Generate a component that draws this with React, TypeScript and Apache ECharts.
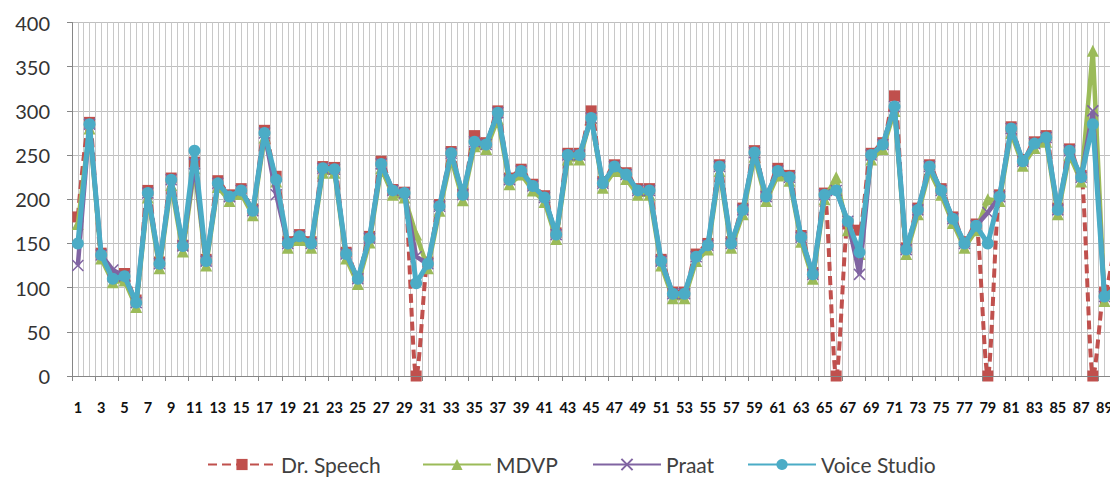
import React, { useEffect, useRef } from "react";
import * as echarts from "echarts";

const categories: string[] = [
  "1","2","3","4","5","6","7","8","9","10","11","12","13","14","15","16","17","18","19","20",
  "21","22","23","24","25","26","27","28","29","30","31","32","33","34","35","36","37","38","39","40",
  "41","42","43","44","45","46","47","48","49","50","51","52","53","54","55","56","57","58","59","60",
  "61","62","63","64","65","66","67","68","69","70","71","72","73","74","75","76","77","78","79","80",
  "81","82","83","84","85","86","87","88","89","90",
];

const drSpeech: number[] = [
  180,287,139,113,116,86,210,129,224,148,
  242,132,221,205,212,189,278,226,152,160,
  152,237,236,140,112,158,243,211,208,0,
  129,194,254,207,272,264,300,224,234,217,
  204,162,252,252,300,220,239,230,212,212,
  132,95,95,138,150,239,152,190,255,205,
  235,227,159,117,207,0,172,165,252,264,
  317,145,190,239,212,180,152,172,0,205,
  282,245,265,272,190,257,227,0,95,160,
];

const mdvp: number[] = [
  172,280,133,106,108,78,202,122,216,141,
  235,125,214,198,206,182,270,220,145,154,
  145,230,230,133,104,151,235,205,202,160,
  122,187,246,199,260,257,291,217,228,210,
  197,155,245,245,292,213,232,223,205,205,
  125,88,88,130,143,232,145,183,248,198,
  227,221,152,110,200,225,165,138,245,257,
  300,138,183,232,205,173,145,165,200,198,
  275,238,258,265,183,250,220,368,85,95,
];

const praat: number[] = [
  125,285,137,120,113,83,207,127,222,147,
  240,130,218,203,210,187,275,205,150,158,
  150,235,234,138,110,156,240,210,207,135,
  127,192,252,205,265,262,298,222,232,215,
  202,160,250,250,292,218,237,228,210,210,
  130,93,93,135,148,237,150,188,253,203,
  232,225,157,115,205,210,175,115,250,262,
  305,143,188,237,210,178,150,170,185,203,
  280,243,263,270,188,255,225,300,90,100,
];

const voiceStudio: number[] = [
  150,285,137,110,113,83,207,127,222,147,
  255,130,218,203,210,187,275,222,150,158,
  150,235,234,138,110,156,240,210,207,105,
  127,192,252,205,265,262,298,222,232,215,
  202,160,250,250,292,218,237,228,210,210,
  130,93,93,135,148,237,150,188,253,203,
  232,225,157,115,205,210,175,140,250,262,
  305,143,188,237,210,178,150,170,150,203,
  280,243,263,270,188,255,225,285,90,100,
];

const seriesNames = ["Dr. Speech", "MDVP", "Praat", "Voice Studio"];
const legendLefts = [202, 417, 587, 742];
const yTicks = { min: 0, max: 400, interval: 50 };

export default function App() {
  const ref = useRef<HTMLDivElement>(null);
  useEffect(() => {
    if (!ref.current) return;
    const chart = echarts.init(ref.current, undefined, { renderer: "svg" });
    const halfCats: string[] = [];
    categories.forEach((c) => {
      halfCats.push(c + "a");
      halfCats.push(c + "b");
    });
    const font = "Lato, 'Open Sans', sans-serif";
    chart.setOption({
      animation: false,
      backgroundColor: "#ffffff",
      grid: { left: 72, top: 22.5, height: 353.5, width: 1050, containLabel: false, outerBoundsMode: "none" },
      legend: seriesNames.map((name, i) => ({
        bottom: 0,
        left: legendLefts[i],
        itemWidth: 68,
        itemHeight: 14,
        textStyle: { fontSize: 21, color: "#404040", fontFamily: font },
        data: [name],
      })),
      xAxis: [
        {
          type: "category",
          data: categories,
          boundaryGap: true,
          axisLine: { lineStyle: { color: "#868686", width: 1 } },
          axisTick: { show: true, length: 5, lineStyle: { color: "#868686" } },
          axisLabel: {
            interval: 1,
            margin: 24,
            fontSize: 14.5,
            fontWeight: "bold",
            color: "#111",
            fontFamily: font,
          },
          splitLine: { show: false },
          z: 3,
        },
        {
          type: "category",
          data: halfCats,
          boundaryGap: true,
          position: "bottom",
          axisLine: { show: false },
          axisTick: { show: false },
          axisLabel: { show: false },
          splitLine: { show: true, interval: 0, lineStyle: { color: "#c8c8c8", width: 1 } },
        },
      ],
      yAxis: {
        type: "value",
        min: yTicks.min,
        max: yTicks.max,
        interval: yTicks.interval,
        axisLine: { show: true, lineStyle: { color: "#868686" } },
        axisTick: { show: true, length: 5, lineStyle: { color: "#868686" } },
        axisLabel: { fontSize: 20, color: "#333", margin: 22, fontFamily: font },
        splitLine: { show: true, lineStyle: { color: "#bfbfbf", width: 1 } },
      },
      series: [
        {
          name: seriesNames[0],
          type: "line",
          data: drSpeech,
          smooth: 0.3,
          smoothMonotone: "x",
          showAllSymbol: true,
          symbol: "rect",
          symbolSize: 11,
          lineStyle: { color: "#C0504D", width: 4, type: [9, 5] },
          itemStyle: { color: "#C0504D" },
          z: 2,
        },
        {
          name: seriesNames[1],
          type: "line",
          data: mdvp,
          showAllSymbol: true,
          symbol: "triangle",
          symbolSize: 12,
          lineStyle: { color: "#9BBB59", width: 4.5 },
          itemStyle: { color: "#9BBB59" },
          z: 3,
        },
        {
          name: seriesNames[2],
          type: "line",
          data: praat,
          showAllSymbol: true,
          symbol: "path://M0,0L10,10M0,10L10,0",
          symbolSize: 11,
          lineStyle: { color: "#8064A2", width: 4.5 },
          itemStyle: { color: "rgba(0,0,0,0)", borderColor: "#8064A2", borderWidth: 1.5 },
          z: 4,
        },
        {
          name: seriesNames[3],
          type: "line",
          data: voiceStudio,
          showAllSymbol: true,
          symbol: "circle",
          symbolSize: 12,
          lineStyle: { color: "#4BACC6", width: 5 },
          itemStyle: { color: "#4BACC6" },
          z: 5,
        },
      ],
    });
    return () => chart.dispose();
  }, []);
  return (
    <div style={{ position: "absolute", left: 0, top: 0, width: 1110, height: 480, overflow: "hidden" }}>
      <div ref={ref} style={{ width: 1122, height: 480 }} />
    </div>
  );
}
